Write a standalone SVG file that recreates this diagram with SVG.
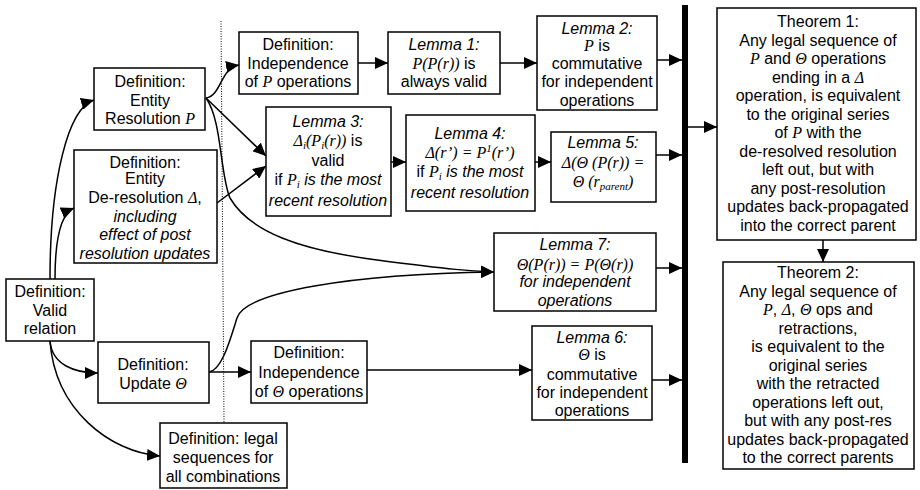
<svg xmlns="http://www.w3.org/2000/svg" width="920" height="490" viewBox="0 0 920 490">
<defs>
<style>
.b{fill:#fff;stroke:#000;stroke-width:1.5}
text{font-family:"Liberation Sans",Arial,sans-serif;font-size:16px;text-anchor:middle;fill:#000}
.i{font-style:italic}
.m{font-family:"Liberation Serif",serif;font-style:italic}
.c{fill:none;stroke:#000;stroke-width:1.5}
</style>
<marker id="a" markerUnits="userSpaceOnUse" markerWidth="14" markerHeight="12" refX="13" refY="6" orient="auto">
<path d="M0,0 L13,6 L0,12 z" fill="#000"/>
</marker>
</defs>
<rect width="920" height="490" fill="#fff"/>
<line x1="221" y1="21" x2="224" y2="422" stroke="#000" stroke-width="1" stroke-dasharray="1,1.5"/>
<rect x="682" y="5" width="6" height="458" fill="#000"/>
<g id="connectors">
<path class="c" marker-end="url(#a)" d="M50,279 C50,180 68,108 94,100"/>
<path class="c" marker-end="url(#a)" d="M55,279 C55,240 60,214 74,208"/>
<path class="c" marker-end="url(#a)" d="M50,341 C52,365 75,373 98,373"/>
<path class="c" marker-end="url(#a)" d="M50,341 C55,410 110,452 160,456"/>
<path class="c" marker-end="url(#a)" d="M206,98 C222,95 220,68 239,65"/>
<path class="c" marker-end="url(#a)" d="M206,98 L266,156"/>
<path class="c" marker-end="url(#a)" d="M217,203 L266,166"/>
<path class="c" marker-end="url(#a)" d="M206,98 C222,120 220,175 230,198 C250,232 300,250 377,260 S470,271 494,272"/>
<path class="c" marker-end="url(#a)" d="M209,372 C222,370 230,340 237,318 C245,292 350,274 494,272"/>
<path class="c" marker-end="url(#a)" d="M209,372 L251,372"/>
<path class="c" marker-end="url(#a)" d="M367,370 L532,370"/>
<path class="c" marker-end="url(#a)" d="M358,63 L388,63"/>
<path class="c" marker-end="url(#a)" d="M500,63 L537,63"/>
<path class="c" marker-end="url(#a)" d="M391,162 L406,162"/>
<path class="c" marker-end="url(#a)" d="M535,162 L551,162"/>
<path class="c" marker-end="url(#a)" d="M657,60 L682,60"/>
<path class="c" marker-end="url(#a)" d="M656,155 L682,155"/>
<path class="c" marker-end="url(#a)" d="M656,268 L682,268"/>
<path class="c" marker-end="url(#a)" d="M652,380 L682,380"/>
<path class="c" marker-end="url(#a)" d="M688,127 L717,127"/>
<path class="c" marker-end="url(#a)" d="M823,240 L823,262"/>
</g>
<g id="valid">
<rect class="b" x="6" y="279" width="88" height="62"/>
<text x="50" y="297">Definition:</text>
<text x="50" y="316">Valid</text>
<text x="50" y="334">relation</text>
</g>
<g id="er">
<rect class="b" x="94" y="68" width="111" height="62"/>
<text x="150" y="87">Definition:</text>
<text x="150" y="106">Entity</text>
<text x="150" y="124">Resolution <tspan class="m">P</tspan></text>
</g>
<g id="deres">
<rect class="b" x="74" y="150" width="143" height="113"/>
<text x="145" y="168">Definition:</text>
<text x="145" y="184">Entity</text>
<text x="145" y="203">De-resolution <tspan class="m">Δ</tspan>,</text>
<text x="145" y="222" class="i">including</text>
<text x="145" y="240" class="i">effect of post</text>
<text x="145" y="259" class="i">resolution updates</text>
</g>
<g id="update">
<rect class="b" x="98" y="342" width="111" height="61"/>
<text x="153" y="370">Definition:</text>
<text x="153" y="389">Update <tspan class="m">Θ</tspan></text>
</g>
<g id="legal">
<rect class="b" x="160" y="423" width="127" height="65"/>
<text x="223" y="444">Definition: legal</text>
<text x="223" y="463">sequences for</text>
<text x="223" y="482">all combinations</text>
</g>
<g id="indepP">
<rect class="b" x="239" y="32" width="119" height="62"/>
<text x="298" y="50">Definition:</text>
<text x="298" y="69">Independence</text>
<text x="298" y="87">of <tspan class="m">P</tspan> operations</text>
</g>
<g id="lemma1">
<rect class="b" x="388" y="32" width="112" height="62"/>
<text x="444" y="50" class="i">Lemma 1:</text>
<text x="444" y="69"><tspan class="m">P(P(r))</tspan> is</text>
<text x="444" y="87">always valid</text>
</g>
<g id="lemma2">
<rect class="b" x="537" y="16" width="120" height="94"/>
<text x="597" y="34" class="i">Lemma 2:</text>
<text x="597" y="51"><tspan class="m">P</tspan> is</text>
<text x="597" y="69">commutative</text>
<text x="597" y="87">for independent</text>
<text x="597" y="106">operations</text>
</g>
<g id="lemma3">
<rect class="b" x="266" y="107" width="125" height="109"/>
<text x="328" y="127" class="i">Lemma 3:</text>
<text x="328" y="146"><tspan class="m">Δ<tspan font-size="11" dy="3">i</tspan><tspan dy="-3">(P</tspan><tspan font-size="11" dy="3">i</tspan><tspan dy="-3">(r))</tspan></tspan> is</text>
<text x="328" y="166">valid</text>
<text x="328" y="185">if <tspan class="m">P<tspan font-size="11" dy="3">i</tspan></tspan><tspan class="i" dy="-3"> is the most</tspan></text>
<text x="328" y="206" class="i">recent resolution</text>
</g>
<g id="lemma4">
<rect class="b" x="406" y="115" width="129" height="96"/>
<text x="470" y="139" class="i">Lemma 4:</text>
<text x="470" y="158" class="m">Δ(r’) = P<tspan font-size="11" dy="-6">1</tspan><tspan dy="6">(r’)</tspan></text>
<text x="470" y="177">if <tspan class="m">P<tspan font-size="11" dy="3">i</tspan></tspan><tspan class="i" dy="-3"> is the most</tspan></text>
<text x="470" y="198" class="i">recent resolution</text>
</g>
<g id="lemma5">
<rect class="b" x="551" y="132" width="105" height="70"/>
<text x="603" y="148" class="i">Lemma 5:</text>
<text x="603" y="168" class="m">Δ(Θ (P(r)) =</text>
<text x="603" y="187" class="m">Θ (r<tspan font-size="11" dy="3">parent</tspan><tspan dy="-3">)</tspan></text>
</g>
<g id="lemma7">
<rect class="b" x="494" y="233" width="162" height="78"/>
<text x="575" y="250" class="i">Lemma 7:</text>
<text x="575" y="270" class="m">Θ(P(r)) = P(Θ(r))</text>
<text x="575" y="287" class="i">for independent</text>
<text x="575" y="306" class="i">operations</text>
</g>
<g id="lemma6">
<rect class="b" x="532" y="326" width="120" height="94"/>
<text x="592" y="343" class="i">Lemma 6:</text>
<text x="592" y="360"><tspan class="m">Θ</tspan> is</text>
<text x="592" y="380">commutative</text>
<text x="592" y="398">for independent</text>
<text x="592" y="416">operations</text>
</g>
<g id="indepT">
<rect class="b" x="251" y="341" width="116" height="62"/>
<text x="309" y="358">Definition:</text>
<text x="309" y="378">Independence</text>
<text x="309" y="397">of <tspan class="m">Θ</tspan> operations</text>
</g>
<g id="theorem1">
<rect class="b" x="717" y="8" width="199" height="232"/>
<text x="818" y="27">Theorem 1:</text>
<text x="818" y="45.5">Any legal sequence of</text>
<text x="818" y="64"><tspan class="m">P</tspan> and <tspan class="m">Θ</tspan> operations</text>
<text x="818" y="82.5">ending in a <tspan class="m">Δ</tspan></text>
<text x="818" y="101">operation, is equivalent</text>
<text x="818" y="119.5">to the original series</text>
<text x="818" y="138">of <tspan class="m">P</tspan> with the</text>
<text x="818" y="156.5">de-resolved resolution</text>
<text x="818" y="175">left out, but with</text>
<text x="818" y="193.5">any post-resolution</text>
<text x="818" y="212">updates back-propagated</text>
<text x="818" y="230.5">into the correct parent</text>
</g>
<g id="theorem2">
<rect class="b" x="723" y="262" width="191" height="207"/>
<text x="818" y="278">Theorem 2:</text>
<text x="818" y="296.5">Any legal sequence of</text>
<text x="818" y="315"><tspan class="m">P</tspan>, <tspan class="m">Δ</tspan>, <tspan class="m">Θ</tspan> ops and</text>
<text x="818" y="333.5">retractions,</text>
<text x="818" y="352">is equivalent to the</text>
<text x="818" y="370.5">original series</text>
<text x="818" y="389">with the retracted</text>
<text x="818" y="407.5">operations left out,</text>
<text x="818" y="426">but with any post-res</text>
<text x="818" y="444.5">updates back-propagated</text>
<text x="818" y="463">to the correct parents</text>
</g>
</svg>
